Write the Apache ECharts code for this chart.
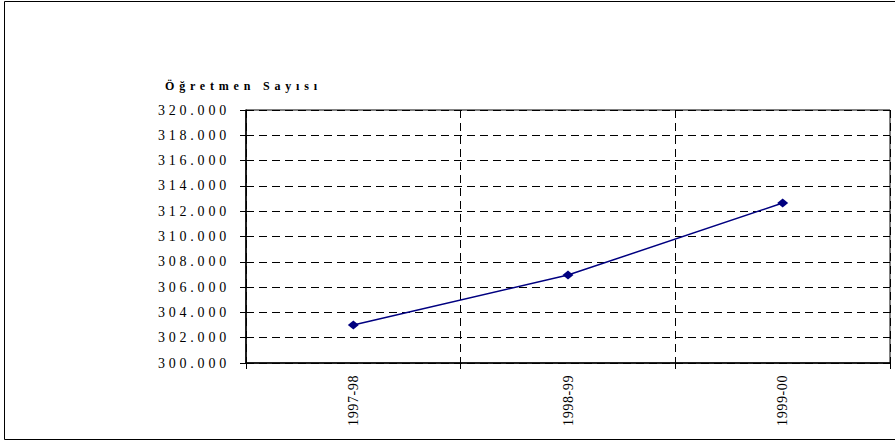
<!DOCTYPE html>
<html>
<head>
<meta charset="utf-8">
<script src="https://cdn.jsdelivr.net/npm/echarts@6/dist/echarts.min.js"></script>
<style>
  html, body { margin: 0; padding: 0; background: #fff; }
  #chart { width: 895px; height: 441px; }
  #chart svg text { font-family: 'Liberation Serif', serif !important; }
</style>
</head>
<body>
<div id="chart"></div>
<script>
// Öğretmen sayısı, öğretim yılına göre
const years = ['1997-98', '1998-99', '1999-00']
const teachers = [303000, 306950, 312650]
const yMin = 300000
const yMax = 320000
const yStep = 2000

const serif = "'Liberation Serif', serif"
const titleText = 'Öğretmen Sayısı'

const chart = echarts.init(document.getElementById('chart'), null, { renderer: 'svg' })
chart.setOption({
  animation: false,
  textStyle: { fontFamily: serif, color: '#000' },
  graphic: [
    {
      type: 'rect',
      shape: { x: 4.5, y: 1.5, width: 900, height: 438 },
      style: { fill: 'none', stroke: '#000', lineWidth: 1 },
      silent: true,
    },
    {
      type: 'text',
      left: 165,
      top: 80,
      style: {
        text: titleText,
        font: 'bold 12px ' + serif,
        fill: '#000',
      },
    },
  ],
  grid: {
    left: 246,
    right: 5,
    top: 110,
    bottom: 78,
    show: true,
    borderColor: '#000',
    borderWidth: 1,
  },
  xAxis: {
    type: 'category',
    data: years,
    boundaryGap: true,
    axisLine: { lineStyle: { color: '#000', width: 1.5 } },
    axisTick: { show: true, alignWithLabel: false, length: 6, lineStyle: { color: '#000' } },
    axisLabel: { rotate: 90, margin: 12, fontSize: 14, color: '#000', fontFamily: serif },
    splitLine: { show: true, lineStyle: { color: '#000', type: [8, 5], width: 1 } },
  },
  yAxis: {
    type: 'value',
    min: yMin,
    max: yMax,
    interval: yStep,
    axisLine: { show: true, lineStyle: { color: '#000', width: 1.5 } },
    axisTick: { show: true, inside: false, length: 6, lineStyle: { color: '#000' } },
    axisLabel: {
      margin: 16,
      fontSize: 14,
      color: '#000',
      fontFamily: serif,
      formatter: (v) => (v / 1000).toFixed(3),
    },
    splitLine: { show: true, lineStyle: { color: '#000', type: [8, 5], width: 1 } },
  },
  series: [
    {
      name: titleText,
      type: 'line',
      data: teachers,
      symbol: 'diamond',
      symbolSize: [11, 9],
      lineStyle: { color: '#000080', width: 1.5 },
      itemStyle: { color: '#000080' },
    },
  ],
})

// the original uses widely spaced lettering
document.querySelectorAll('#chart svg text').forEach((t) => {
  const s = t.textContent
  if (s === titleText) t.setAttribute('letter-spacing', '4.8')
  else if (/^\d{3}\.\d{3}$/.test(s)) t.setAttribute('letter-spacing', '3.8')
  else if (years.includes(s)) t.setAttribute('letter-spacing', '0.6')
})
</script>
</body>
</html>
